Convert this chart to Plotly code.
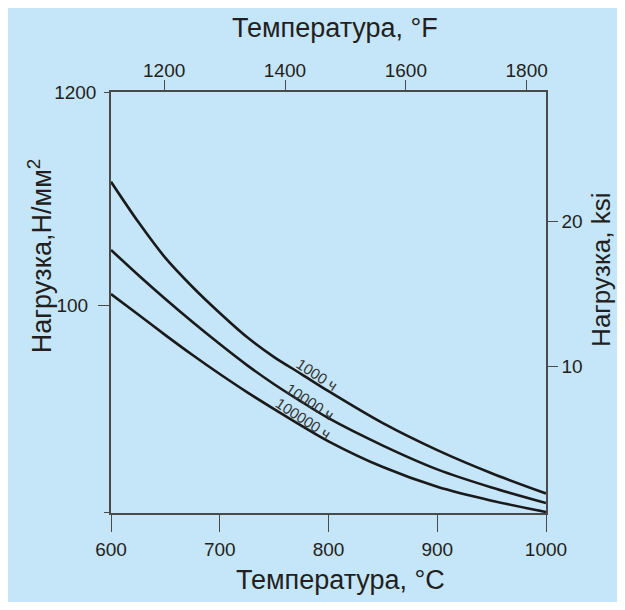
import plotly.graph_objects as go

# ---- data ----
temps_c = [600, 625, 650, 675, 700, 725, 750, 775, 800, 850, 900, 950, 1000]
stress_1000h = [420.9, 263.8, 173.2, 123.4, 91.1, 68.8, 54.5, 44.7, 36.6, 25.2, 18.4, 14.05, 11.1]
stress_10000h = [190.1, 142.0, 107.3, 82.0, 63.4, 49.6, 39.7, 32.4, 26.7, 19.4, 14.7, 11.9, 9.93]
stress_100000h = [113.7, 89.5, 70.4, 55.8, 44.7, 36.2, 29.7, 24.5, 20.4, 15.1, 12.0, 10.2, 8.94]
curve_labels = ["1000 ч", "10000 ч", "100000 ч"]

c_ticks = [600, 700, 800, 900, 1000]
f_ticks = [1200, 1400, 1600, 1800]
ksi_ticks = [10, 20]
nmm_ticks_short = [8.84, 1200]
nmm_ticks_short_text = [" ", "1200"]
nmm_ticks_long = [100]

c_range = [600, 1000]
f_range = [c * 9 / 5 + 32 for c in c_range]
nmm_range_log = [0.9463, 3.0792]
ksi_range = [-0.17, 28.97]

BG = "#c5e5f8"
INK = "#231f20"
AX = "#4a4a4a"
FONT = "Liberation Sans, Arial, sans-serif"

fig = go.Figure()
for vals in (stress_1000h, stress_10000h, stress_100000h):
    fig.add_trace(go.Scatter(x=temps_c, y=vals, mode="lines",
                             line=dict(color="#1a1a1a", width=2.6, shape="spline", smoothing=0.8),
                             showlegend=False, hoverinfo="skip"))
# helper traces so the secondary axes are drawn
fig.add_trace(go.Scatter(x=f_range, y=ksi_range, xaxis="x2", yaxis="y2", mode="lines",
                         line=dict(width=0, color="rgba(0,0,0,0)"), showlegend=False, hoverinfo="skip"))
fig.add_trace(go.Scatter(x=c_range, y=[10, 10], xaxis="x", yaxis="y3", mode="lines",
                         line=dict(width=0, color="rgba(0,0,0,0)"), showlegend=False, hoverinfo="skip"))

tickfont = dict(family=FONT, size=19, color=INK)
fig.update_layout(
    width=609, height=594,
    margin=dict(l=103, r=71, t=84, b=89),
    paper_bgcolor=BG, plot_bgcolor=BG,
    font=dict(family=FONT, color=INK),
    xaxis=dict(range=c_range, tickvals=c_ticks, ticks="outside", ticklen=17, tickwidth=1.3,
               tickcolor=AX, showline=True, linecolor=AX, linewidth=1.5, showgrid=False,
               zeroline=False, tickfont=tickfont, ticklabelstandoff=1),
    xaxis2=dict(range=f_range, overlaying="x", side="top", tickvals=f_ticks, ticks="outside",
                ticklen=10, tickwidth=1.3, tickcolor=AX, showline=True, linecolor=AX, linewidth=1.5,
                showgrid=False, zeroline=False, tickfont=tickfont, anchor="y", ticklabelstandoff=-4),
    yaxis=dict(type="log", range=nmm_range_log, tickvals=nmm_ticks_short, ticktext=nmm_ticks_short_text,
               ticks="outside", ticklen=5, tickwidth=1.3, tickcolor=AX, showline=True, linecolor=AX,
               linewidth=1.5, showgrid=False, zeroline=False, tickfont=tickfont, ticklabelstandoff=4),
    yaxis3=dict(type="log", range=nmm_range_log, overlaying="y", side="left", anchor="x",
                tickvals=nmm_ticks_long, ticks="outside", ticklen=12, tickwidth=1.3, tickcolor=AX,
                showline=False, showgrid=False, zeroline=False, tickfont=tickfont, ticklabelstandoff=6),
    yaxis2=dict(range=ksi_range, overlaying="y", side="right", anchor="x", tickvals=ksi_ticks,
                ticks="outside", ticklen=10, tickwidth=1.3, tickcolor=AX, showline=True, linecolor=AX,
                linewidth=1.5, showgrid=False, zeroline=False, tickfont=tickfont),
)

title_font = dict(family=FONT, size=27, color=INK)
annotations = [
    dict(text="Температура, °F", x=0.515, y=1.152, xref="paper", yref="paper",
         showarrow=False, font=title_font, xanchor="center", yanchor="middle"),
    dict(text="Температура, °C", x=0.527, y=-0.159, xref="paper", yref="paper",
         showarrow=False, font=title_font, xanchor="center", yanchor="middle"),
    dict(text="Нагрузка,Н/мм<sup>2</sup>", x=-0.163, y=0.61, xref="paper", yref="paper",
         showarrow=False, font=title_font, textangle=-90, xanchor="center", yanchor="middle"),
    dict(text="Нагрузка, ksi", x=1.126, y=0.577, xref="paper", yref="paper",
         showarrow=False, font=dict(family=FONT, size=26, color=INK), textangle=-90,
         xanchor="center", yanchor="middle"),
]
label_pos = [(0.473, 0.328), (0.4575, 0.264), (0.442, 0.224)]
for lab, (px, py) in zip(curve_labels, label_pos):
    annotations.append(dict(text=lab, x=px, y=py, xref="paper", yref="paper", showarrow=False,
                            font=dict(family=FONT, size=15, color="#333333"), textangle=33,
                            xanchor="center", yanchor="middle"))
fig.update_layout(annotations=annotations)

fig.write_html("out.html")
